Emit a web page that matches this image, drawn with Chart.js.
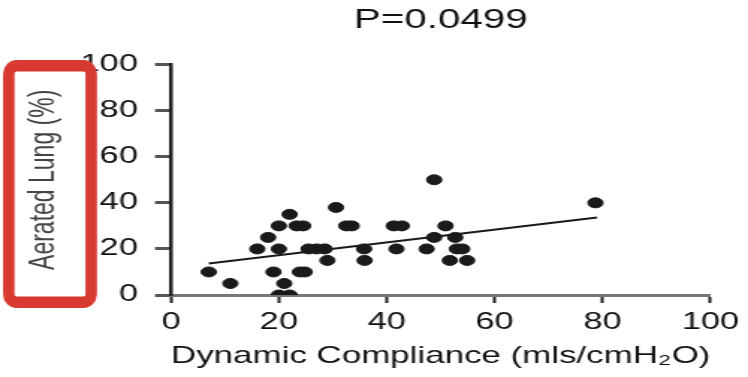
<!DOCTYPE html>
<html>
<head>
<meta charset="utf-8">
<script src="https://cdn.jsdelivr.net/npm/chart.js@4/dist/chart.umd.min.js"></script>
<style>
  body { margin: 0; background: #fff; }
  #chart { display: block; }
</style>
</head>
<body>
<!-- the reference is stretched sideways, so the canvas is drawn narrow and widened by css -->
<canvas id="chart" width="500" height="377" style="width:748px;height:377px"></canvas>
<script>
// Données
var compliance = [7, 11, 16, 18, 19, 20, 20, 22, 21, 20, 22, 23.3, 24.5, 23.9, 24.8, 25.5, 27, 28.5, 29, 30.6,
  32.5, 33.5, 35.8, 35.9, 41.3, 42.8, 41.8, 47.4, 48.8, 48.8, 50.9, 52.7, 53, 54, 51.7, 54.9, 78.7];
var aeratedLung = [10, 5, 20, 25, 10, 20, 30, 35, 5, 0, 0, 30, 30, 10, 10, 20, 20, 20, 15, 38,
  30, 30, 20, 15, 30, 30, 20, 20, 25, 50, 30, 25, 20, 20, 15, 15, 40];
var fitX = [7, 79];
var fitY = [13.7, 33.6];
var tickValues = [0, 20, 40, 60, 80, 100];

var STRETCH = 748 / 500;
var fontFamily = "'Liberation Sans', Arial, Helvetica, sans-serif";

function toPoints(xs, ys) {
  var pts = [];
  for (var i = 0; i < xs.length; i++) {
    pts.push({ x: xs[i], y: ys[i] });
  }
  return pts;
}

// cadre rouge autour du titre de l'axe y, dessiné en pixels de l'image
var redBox = {
  id: 'redBox',
  afterDraw: function(chart) {
    var ctx = chart.ctx;
    ctx.save();
    ctx.scale(1 / STRETCH, 1);
    ctx.strokeStyle = '#d83a32';
    ctx.lineWidth = 11.5;
    ctx.beginPath();
    ctx.roundRect(8.8, 65.8, 82.4, 236.4, 8);
    ctx.stroke();
    ctx.restore();
  }
};

var ctx = document.getElementById('chart').getContext('2d');
new Chart(ctx, {
  type: 'scatter',
  data: {
    datasets: [{
      label: 'Aerated lung',
      data: toPoints(compliance, aeratedLung),
      backgroundColor: '#1a1a1a',
      borderColor: '#1a1a1a',
      pointRadius: 5,
      pointHoverRadius: 5
    }, {
      type: 'line',
      label: 'Fit',
      data: toPoints(fitX, fitY),
      borderColor: '#1a1a1a',
      borderWidth: 2,
      pointRadius: 0,
      fill: false
    }]
  },
  options: {
    responsive: false,
    animation: false,
    devicePixelRatio: 1,
    layout: { padding: { left: 0, right: 22.7, top: 0, bottom: 0 } },
    plugins: {
      legend: { display: false },
      tooltip: { enabled: false },
      title: {
        display: true,
        fullSize: false, // centred over the plot area only
        text: 'P=0.0499',
        color: '#111',
        font: { family: fontFamily, size: 27, weight: 'normal' },
        padding: { top: 4.8, bottom: 27.4 }
      }
    },
    scales: {
      x: {
        type: 'linear',
        min: 0,
        max: 100,
        afterBuildTicks: function(scale) {
          scale.ticks = tickValues.map(function(v) { return { value: v }; });
        },
        afterFit: function(scale) { scale.height = 82; },
        border: { color: '#777', width: 3 },
        grid: { drawOnChartArea: false, drawTicks: true, tickLength: 8, tickColor: '#222', tickWidth: 2 },
        ticks: {
          color: '#111',
          padding: 6,
          maxRotation: 0,
          font: { family: fontFamily, size: 23 }
        },
        title: {
          display: true,
          text: 'Dynamic Compliance (mls/cmH\u2082O)',
          color: '#111',
          font: { family: fontFamily, size: 24 },
          padding: { top: 0, bottom: 6.6 }
        }
      },
      y: {
        type: 'linear',
        min: 0,
        max: 100,
        afterBuildTicks: function(scale) {
          scale.ticks = tickValues.map(function(v) { return { value: v }; });
        },
        afterFit: function(scale) { scale.width = 114.3; },
        border: { color: '#222', width: 2.5 },
        grid: { drawOnChartArea: false, drawTicks: true, tickLength: 10.7, tickColor: '#555', tickWidth: 3 },
        ticks: {
          color: '#111',
          padding: 11.4,
          font: { family: fontFamily, size: 23 }
        },
        title: {
          display: true,
          text: 'Aerated Lung (%)',
          color: '#444',
          font: { family: fontFamily, size: 23 },
          padding: { top: 16, bottom: 0 }
        }
      }
    }
  },
  plugins: [redBox]
});
</script>
</body>
</html>
